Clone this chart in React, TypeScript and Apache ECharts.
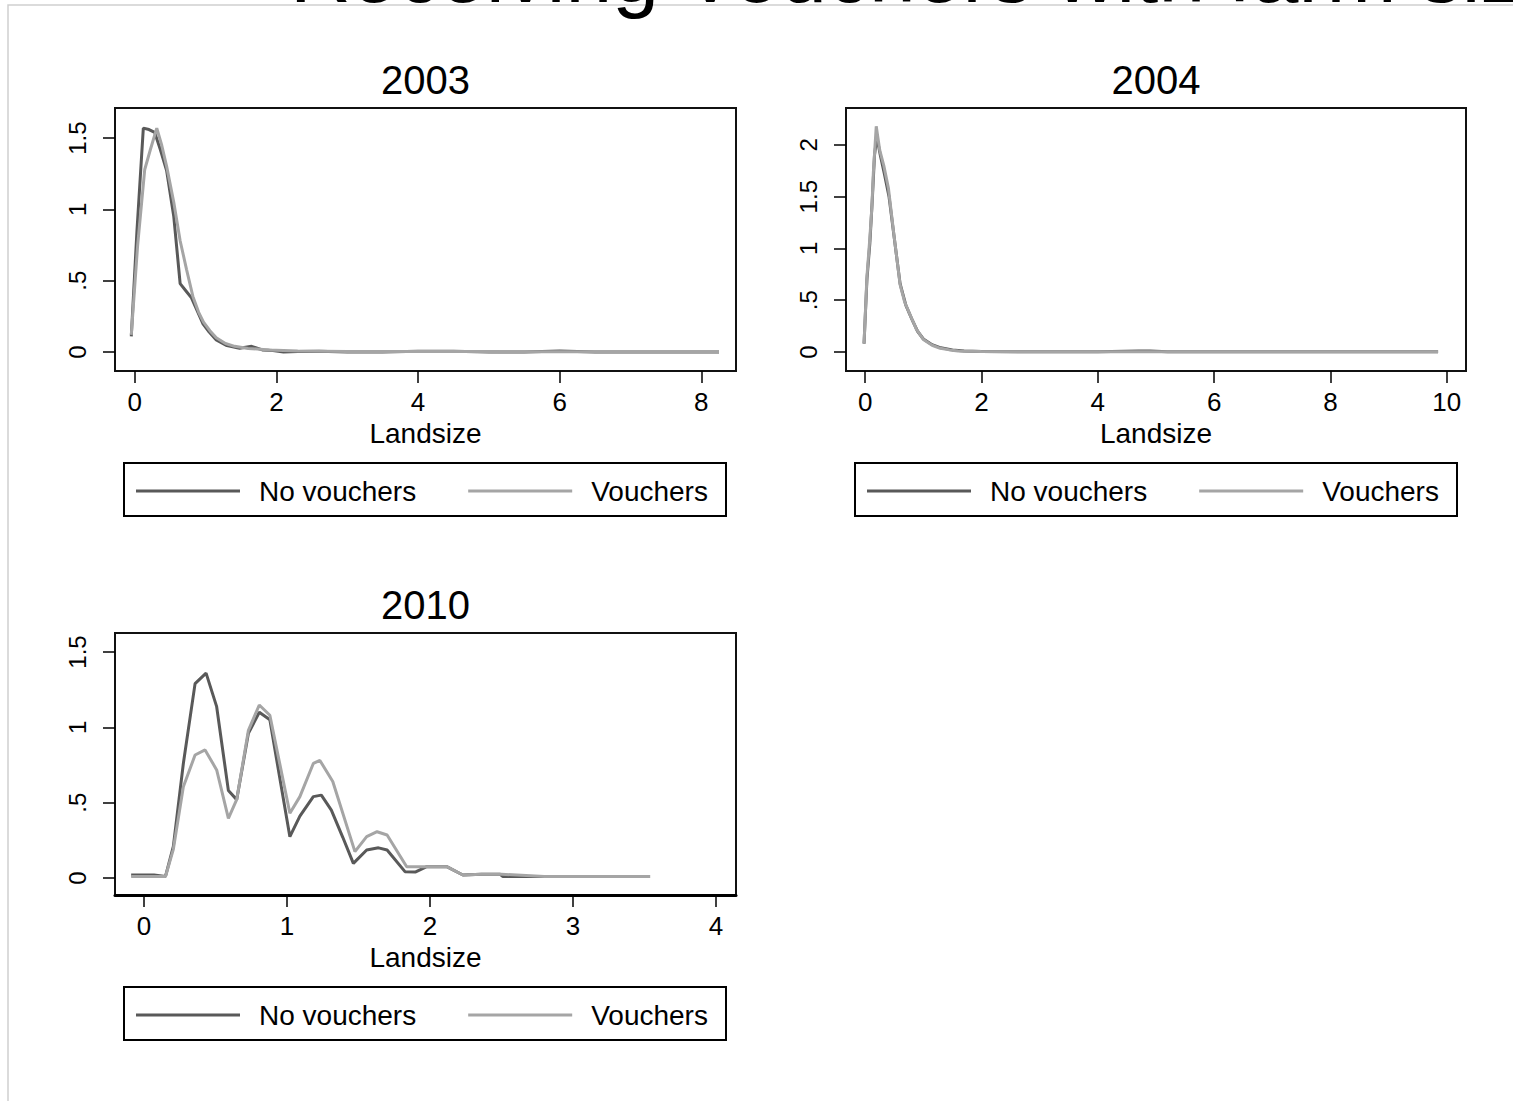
import React, { useEffect, useRef } from "react";
import * as echarts from "echarts";

const panelTitles = ["2003", "2004", "2010"];
const seriesNames = ["No vouchers", "Vouchers"];
const mainTitle = "Receiving Vouchers with farm size";
const axisName = "Landsize";

const xTicks2003 = [0, 2, 4, 6, 8];
const xTicks2004 = [0, 2, 4, 6, 8, 10];
const xTicks2010 = [0, 1, 2, 3, 4];
const yTicks2003 = [0, 0.5, 1, 1.5];
const yTicks2004 = [0, 0.5, 1, 1.5, 2];
const yTicks2010 = [0, 0.5, 1, 1.5];

const x2003No = [-0.05, 0.03, 0.12, 0.2, 0.28, 0.36, 0.45, 0.55, 0.64, 0.72, 0.8, 0.88, 0.96, 1.05, 1.15, 1.3, 1.48, 1.65, 1.8, 1.95, 2.1, 2.3, 2.6, 3.0, 3.5, 4.0, 4.5, 5.0, 5.5, 6.0, 6.5, 7.0, 7.5, 8.0, 8.25];
const y2003No = [0.11, 0.85, 1.57, 1.56, 1.54, 1.42, 1.27, 0.95, 0.48, 0.43, 0.38, 0.29, 0.2, 0.14, 0.085, 0.045, 0.026, 0.04, 0.015, 0.01, 0.0, 0.003, 0.005, 0.0, 0.0, 0.005, 0.005, 0.0, 0.0, 0.008, 0.0, 0.0, 0.0, 0.0, 0.0];
const x2003Yes = [-0.05, 0.04, 0.14, 0.22, 0.31, 0.38, 0.45, 0.55, 0.64, 0.73, 0.82, 0.9, 0.97, 1.06, 1.15, 1.28, 1.41, 1.6, 1.9, 2.3, 3, 4, 5, 6, 7, 8, 8.25];
const y2003Yes = [0.12, 0.75, 1.28, 1.42, 1.57, 1.45, 1.3, 1.05, 0.78, 0.58, 0.39, 0.28, 0.21, 0.15, 0.1, 0.06, 0.04, 0.025, 0.015, 0.008, 0.004, 0.003, 0.003, 0.002, 0.002, 0.002, 0.002];

const x2004No = [-0.02, 0.03, 0.08, 0.12, 0.16, 0.2, 0.26, 0.33, 0.41, 0.5, 0.6, 0.7, 0.8, 0.9, 1.0, 1.15, 1.3, 1.5, 1.7, 2.0, 3, 4, 4.7, 4.9, 5.2, 6, 7, 8, 9, 9.85];
const y2004No = [0.08, 0.7, 1.05, 1.45, 1.9, 2.08, 1.9, 1.72, 1.5, 1.1, 0.66, 0.45, 0.32, 0.2, 0.125, 0.07, 0.04, 0.02, 0.01, 0.004, 0.002, 0.002, 0.01, 0.01, 0.002, 0.001, 0.001, 0.001, 0.001, 0.001];
const x2004Yes = [-0.02, 0.03, 0.08, 0.115, 0.14, 0.19, 0.25, 0.32, 0.4, 0.49, 0.6, 0.68, 0.77, 0.88, 1.0, 1.15, 1.29, 1.45, 1.6, 2.0, 3, 4, 5, 6, 7, 8, 9, 9.85];
const y2004Yes = [0.08, 0.73, 1.1, 1.4, 1.73, 2.18, 1.95, 1.8, 1.58, 1.15, 0.65, 0.48, 0.36, 0.22, 0.12, 0.065, 0.035, 0.02, 0.01, 0.004, 0.002, 0.002, 0.002, 0.001, 0.001, 0.001, 0.001, 0.001];

const x2010No = [-0.09, 0.07, 0.15, 0.205, 0.275, 0.357, 0.434, 0.508, 0.59, 0.648, 0.73, 0.806, 0.88, 0.95, 1.02, 1.09, 1.184, 1.24, 1.31, 1.39, 1.464, 1.557, 1.64, 1.7, 1.825, 1.9, 1.977, 2.117, 2.23, 2.36, 2.49, 2.51, 2.8, 3.0];
const y2010No = [0.02, 0.02, 0.01, 0.21, 0.76, 1.29, 1.36, 1.137, 0.58, 0.52, 0.96, 1.1, 1.05, 0.66, 0.274, 0.41, 0.54, 0.55, 0.45, 0.27, 0.097, 0.186, 0.2, 0.186, 0.042, 0.04, 0.075, 0.075, 0.02, 0.025, 0.025, 0.01, 0.01, 0.01];
const x2010Yes = [-0.09, 0.07, 0.15, 0.205, 0.275, 0.357, 0.427, 0.508, 0.59, 0.648, 0.73, 0.806, 0.88, 1.02, 1.09, 1.184, 1.23, 1.32, 1.475, 1.557, 1.63, 1.7, 1.837, 1.977, 2.117, 2.23, 2.36, 2.5, 2.8, 3.2, 3.54];
const y2010Yes = [0.01, 0.01, 0.01, 0.19, 0.606, 0.816, 0.85, 0.717, 0.396, 0.52, 0.98, 1.148, 1.08, 0.43, 0.54, 0.76, 0.78, 0.64, 0.175, 0.274, 0.307, 0.285, 0.075, 0.075, 0.075, 0.02, 0.025, 0.025, 0.01, 0.01, 0.01];

const FONT = "Arial, 'Liberation Sans', sans-serif";
const DARK = "#595959";
const LIGHT = "#a5a5a5";

const zip = (xs: number[], ys: number[]) => xs.map((x, i) => [x, ys[i]]);
const fmtY = (v: number) => (v === 0.5 ? ".5" : String(v));

const panels = [
  { left: 115, top: 108, width: 621, height: 263, xMin: -0.28, xMax: 8.49, yMin: -0.133, yMax: 1.711, xTicks: xTicks2003, yTicks: yTicks2003, no: zip(x2003No, y2003No), yes: zip(x2003Yes, y2003Yes), thick: false },
  { left: 846, top: 108, width: 620, height: 263, xMin: -0.33, xMax: 10.33, yMin: -0.184, yMax: 2.357, xTicks: xTicks2004, yTicks: yTicks2004, no: zip(x2004No, y2004No), yes: zip(x2004Yes, y2004Yes), thick: false },
  { left: 115, top: 633, width: 621, height: 262, xMin: -0.203, xMax: 4.14, yMin: -0.113, yMax: 1.626, xTicks: xTicks2010, yTicks: yTicks2010, no: zip(x2010No, y2010No), yes: zip(x2010Yes, y2010Yes), thick: true },
];

export default function App() {
  const ref = useRef<HTMLDivElement>(null);
  useEffect(() => {
    if (!ref.current) return;
    const chart = echarts.init(ref.current, undefined, { renderer: "svg" });
    const grid: any[] = [];
    const xAxis: any[] = [];
    const yAxis: any[] = [];
    const series: any[] = [];
    const legend: any[] = [];
    const graphic: any[] = [
      { type: "rect", shape: { x: 8, y: 5, width: 1600, height: 1200 }, style: { fill: "none", stroke: "#cfcfcf", lineWidth: 1.5 }, z: 0 },
      { type: "text", x: 290, y: 15, style: { text: mainTitle, fontSize: 84, fontFamily: FONT, fill: "#000", align: "left", verticalAlign: "bottom" }, z: 5 },
    ];
    panels.forEach((p, i) => {
      grid.push({ left: p.left, top: p.top, width: p.width, height: p.height, show: true, borderColor: "#111", borderWidth: 2, backgroundColor: "transparent" });
      xAxis.push({
        type: "value", gridIndex: i, min: p.xMin, max: p.xMax,
        name: axisName, nameLocation: "middle", nameGap: 48,
        nameTextStyle: { fontSize: 28, fontFamily: FONT, color: "#000" },
        axisLine: { show: p.thick, onZero: false, lineStyle: { color: "#000", width: 3 } },
        splitLine: { show: false },
        axisTick: { show: true, length: 12, customValues: p.xTicks, lineStyle: { color: "#000", width: 1.5 } },
        axisLabel: { customValues: p.xTicks, fontSize: 26, fontFamily: FONT, color: "#000", margin: 18 },
      });
      yAxis.push({
        type: "value", gridIndex: i, min: p.yMin, max: p.yMax,
        axisLine: { show: false, onZero: false },
        splitLine: { show: false },
        axisTick: { show: true, length: 12, customValues: p.yTicks, lineStyle: { color: "#000", width: 1.5 } },
        axisLabel: { customValues: p.yTicks, rotate: 90, fontSize: 24, fontFamily: FONT, color: "#000", margin: 26, formatter: fmtY },
      });
      series.push({ type: "line", name: seriesNames[0], xAxisIndex: i, yAxisIndex: i, data: p.no, showSymbol: false, symbol: "none", lineStyle: { color: DARK, width: 3 }, itemStyle: { color: DARK }, z: 3 });
      series.push({ type: "line", name: seriesNames[1], xAxisIndex: i, yAxisIndex: i, data: p.yes, showSymbol: false, symbol: "none", lineStyle: { color: LIGHT, width: 3 }, itemStyle: { color: LIGHT }, z: 4 });
      const cx = p.left + p.width / 2;
      graphic.push({ type: "text", x: cx, y: p.top - 28, style: { text: panelTitles[i], fontSize: 40, fontFamily: FONT, fill: "#000", align: "center", verticalAlign: "middle" } });
      const ly = p.top + p.height + 92;
      graphic.push({ type: "rect", shape: { x: p.left + 9, y: ly, width: 602, height: 53 }, style: { fill: "none", stroke: "#000", lineWidth: 2 } });
      legend.push({
        left: p.left + 16, top: ly + 9, orient: "horizontal", itemWidth: 104, itemHeight: 3, itemGap: 52,
        icon: "rect", selectedMode: false,
        textStyle: { fontSize: 28, fontFamily: FONT, color: "#000", padding: [0, 0, 0, 14] },
        data: [
          { name: seriesNames[0], itemStyle: { color: DARK } },
          { name: seriesNames[1], itemStyle: { color: LIGHT } },
        ],
      });
    });
    chart.setOption({ animation: false, backgroundColor: "#fff", grid, xAxis, yAxis, series, legend, graphic });
    return () => chart.dispose();
  }, []);
  return <div ref={ref} style={{ position: "absolute", left: 0, top: 0, width: 1513, height: 1101 }} />;
}
